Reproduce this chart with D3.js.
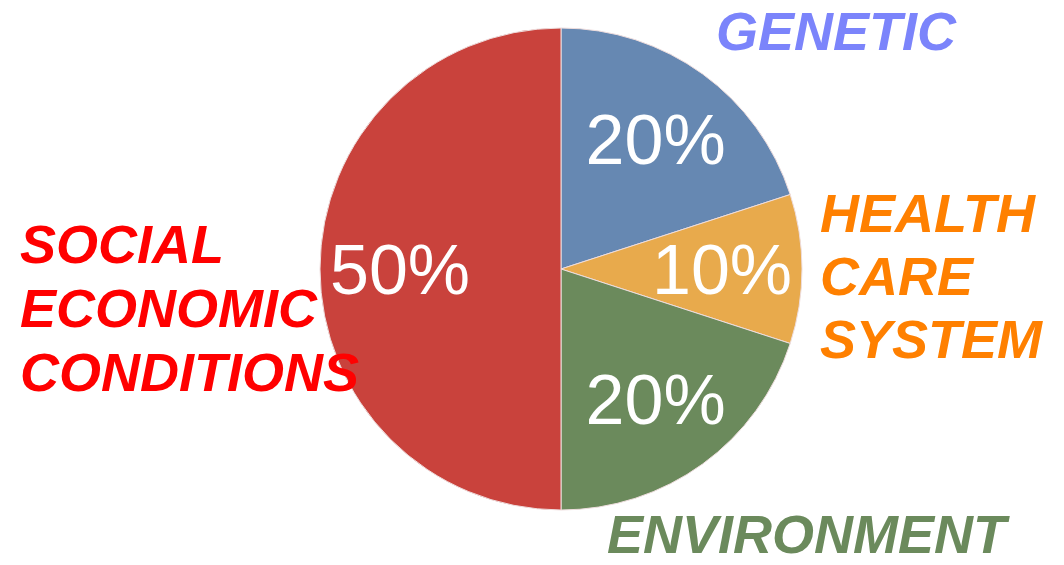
<!DOCTYPE html>
<html>
<head>
<meta charset="utf-8">
<script src="https://cdn.jsdelivr.net/npm/d3@7"></script>
<style>
  body { margin: 0; background: #fff; }
  svg { display: block; font-family: "Liberation Sans", Arial, sans-serif; }
</style>
</head>
<body>
<svg id="chart"></svg>
<script>
(function(){

  // slice data, clockwise from 12 o'clock
  const categories = ["GENETIC", "HEALTH CARE SYSTEM", "ENVIRONMENT", "SOCIAL ECONOMIC CONDITIONS"];
  const shares = [20, 10, 20, 50];
  const sliceColours = ["#6688b2", "#e8aa4c", "#6b8a5c", "#c9423c"];

  // outside labels (one array entry per line)
  const labelLines = [["GENETIC"], ["HEALTH", "CARE", "SYSTEM"], ["ENVIRONMENT"], ["SOCIAL", "ECONOMIC", "CONDITIONS"]];
  const labelColours = ["#7b84fb", "#ff8000", "#6b8a5c", "#ff0000"];

  const width = 1064, height = 565;
  const cx = 561, cy = 269, radius = 241;

  const svg = d3.select("#chart")
    .attr("width", width)
    .attr("height", height);

  const pie = d3.pie().sort(null).value(d => d);
  const arcs = pie(shares);

  const arc = d3.arc().innerRadius(0).outerRadius(radius);
  const labelArc = d3.arc().innerRadius(161).outerRadius(161);

  const g = svg.append("g")
    .attr("transform", "translate(" + cx + "," + cy + ")");

  g.selectAll("path")
    .data(arcs)
    .enter()
    .append("path")
      .attr("d", arc)
      .attr("fill", (d, i) => sliceColours[i])
      .attr("stroke", "#eedddd")
      .attr("stroke-width", 1);

  // percentages inside the slices
  g.selectAll("text.pct")
    .data(arcs)
    .enter()
    .append("text")
      .attr("class", "pct")
      .attr("transform", d => "translate(" + labelArc.centroid(d) + ")")
      .attr("text-anchor", "middle")
      .attr("dy", "0.36em")
      .attr("fill", "#fff")
      .style("font-size", "70px")
      .text(d => d.value + "%");

  // category labels around the pie
  const labelPos = [
    {x: 716, y: 50, lead: 63},
    {x: 820, y: 232, lead: 63},
    {x: 607, y: 553, lead: 63},
    {x: 20, y: 263, lead: 64}
  ];

  categories.forEach((c, i) => {
    const t = svg.append("text")
      .attr("x", labelPos[i].x)
      .attr("y", labelPos[i].y)
      .attr("fill", labelColours[i])
      .style("font-size", "54px")
      .style("font-weight", "bold")
      .style("font-style", "italic");
    t.selectAll("tspan")
      .data(labelLines[i])
      .enter()
      .append("tspan")
        .attr("x", labelPos[i].x)
        .attr("dy", (d, j) => j === 0 ? 0 : labelPos[i].lead)
        .text(d => d);
  });

})();
</script>
</body>
</html>
